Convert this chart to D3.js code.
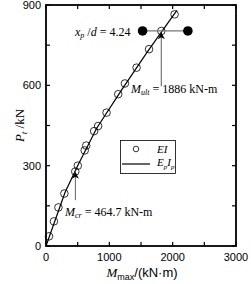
<!DOCTYPE html>
<html>
<head>
<meta charset="utf-8">
<script src="https://cdn.jsdelivr.net/npm/d3@7"></script>
<style>
  body { margin: 0; background: #fff; }
  svg { display: block; }
  .serif { font-family: "Liberation Serif", "Times New Roman", serif; }
  .sans { font-family: "Liberation Sans", Arial, sans-serif; }
</style>
</head>
<body>
<svg width="251" height="284"></svg>
<script>
// EI points (circles)
var momentEI = [47, 125, 196, 290, 462, 502, 611, 635, 760, 823, 956, 1141, 1246, 1430, 1627, 1821, 2030];
var loadEI   = [36, 92, 144, 196, 278, 300, 357, 375, 429, 448, 498, 567, 607, 666, 735, 803, 865];
// EpIp curve (line)
var momentEpIp = [0, 300, 500, 800, 1200, 1600, 2066];
var loadEpIp   = [0, 200, 300, 440, 585, 725, 880];

var xTicks = [0, 1000, 2000, 3000];
var yTicks = [0, 300, 600, 900];

var mCr = 464.7, mCrLoad = 278, mCrTail = 171;
var mUlt = 1886, mUltX = 1821, mUltLoad = 803, mUltTail = 597;
var xpDots = [1525, 2240];
var xpRatio = "4.24";

var svg = d3.select("svg");
var margin = {left: 46, top: 5, right: 15, bottom: 38};
var width = 251 - margin.left - margin.right,
    height = 284 - margin.top - margin.bottom;

var x = d3.scaleLinear().domain([0, 3000]).range([margin.left, margin.left + width]);
var y = d3.scaleLinear().domain([0, 900]).range([margin.top + height, margin.top]);

var defs = svg.append("defs");
defs.append("marker")
    .attr("id", "head")
    .attr("viewBox", "0 0 10 10")
    .attr("refX", 9).attr("refY", 5)
    .attr("markerWidth", 7).attr("markerHeight", 9)
    .attr("markerUnits", "userSpaceOnUse")
    .attr("orient", "auto")
  .append("path")
    .attr("d", "M0,0 L10,5 L0,10 L3,5 Z")
    .attr("fill", "#000");

// ticks inside, on all sides
var minorX = d3.range(0, 3001, 500), minorY = d3.range(0, 901, 150);
var tl = 4;
var tg = svg.append("g").attr("stroke", "#000").attr("stroke-width", 1.2);
minorX.forEach(function(v) {
  tg.append("line").attr("x1", x(v)).attr("x2", x(v)).attr("y1", y(0)).attr("y2", y(0) - tl);
  tg.append("line").attr("x1", x(v)).attr("x2", x(v)).attr("y1", y(900)).attr("y2", y(900) + tl);
});
minorY.forEach(function(v) {
  tg.append("line").attr("y1", y(v)).attr("y2", y(v)).attr("x1", x(0)).attr("x2", x(0) + tl);
  tg.append("line").attr("y1", y(v)).attr("y2", y(v)).attr("x1", x(3000)).attr("x2", x(3000) - tl);
});

svg.append("g").selectAll("text").data(xTicks).enter().append("text")
    .attr("class", "sans").attr("font-size", 11)
    .attr("x", function(d) { return x(d); })
    .attr("y", y(0) + 15)
    .attr("text-anchor", "middle")
    .text(function(d) { return d; });

svg.append("g").selectAll("text").data(yTicks).enter().append("text")
    .attr("class", "sans").attr("font-size", 11)
    .attr("x", x(0) - 5)
    .attr("y", function(d) { return y(d) + 4; })
    .attr("text-anchor", "end")
    .text(function(d) { return d; });

// EpIp line
var line = d3.line()
    .x(function(d) { return x(d[0]); })
    .y(function(d) { return y(d[1]); });
svg.append("path")
    .datum(d3.zip(momentEpIp, loadEpIp))
    .attr("d", line)
    .attr("fill", "none")
    .attr("stroke", "#000")
    .attr("stroke-width", 1.2);

// EI circles
svg.append("g").selectAll("circle")
    .data(d3.zip(momentEI, loadEI))
    .enter().append("circle")
    .attr("cx", function(d) { return x(d[0]); })
    .attr("cy", function(d) { return y(d[1]); })
    .attr("r", 3.8)
    .attr("fill", "none")
    .attr("stroke", "#000")
    .attr("stroke-width", 0.8);

// xp/d marker
svg.append("line")
    .attr("x1", x(xpDots[0])).attr("x2", x(xpDots[1]))
    .attr("y1", y(mUltLoad)).attr("y2", y(mUltLoad))
    .attr("stroke", "#777").attr("stroke-width", 1.2);
svg.append("g").selectAll("circle").data(xpDots).enter().append("circle")
    .attr("cx", function(d) { return x(d); })
    .attr("cy", y(mUltLoad))
    .attr("r", 4.8)
    .attr("fill", "#000");

// arrows
svg.append("line")
    .attr("x1", x(mUltX)).attr("x2", x(mUltX))
    .attr("y1", y(mUltTail)).attr("y2", y(mUltLoad) + 2)
    .attr("stroke", "#777").attr("stroke-width", 1.2)
    .attr("marker-end", "url(#head)");
svg.append("line")
    .attr("x1", x(mCr)).attr("x2", x(mCr))
    .attr("y1", y(mCrTail)).attr("y2", y(mCrLoad) + 1)
    .attr("stroke", "#777").attr("stroke-width", 1.2)
    .attr("marker-end", "url(#head)");

// annotation texts
var t1 = svg.append("text").attr("class", "serif").attr("font-size", 12)
    .attr("x", 75).attr("y", 36);
t1.append("tspan").attr("font-style", "italic").text("x");
t1.append("tspan").attr("font-style", "italic").attr("font-size", 8).attr("dy", 2).text("p");
t1.append("tspan").attr("dy", -2).text(" /");
t1.append("tspan").attr("font-style", "italic").text("d");
t1.append("tspan").text(" = " + xpRatio);

var t2 = svg.append("text").attr("class", "serif").attr("font-size", 12)
    .attr("x", 131).attr("y", 93);
t2.append("tspan").attr("font-style", "italic").text("M");
t2.append("tspan").attr("font-style", "italic").attr("font-size", 8).attr("dy", 2).text("ult");
t2.append("tspan").attr("dy", -2).text(" = " + mUlt + " kN-m");

var t3 = svg.append("text").attr("class", "serif").attr("font-size", 12)
    .attr("x", 65).attr("y", 216);
t3.append("tspan").attr("font-style", "italic").text("M");
t3.append("tspan").attr("font-style", "italic").attr("font-size", 8).attr("dy", 2).text("cr");
t3.append("tspan").attr("dy", -2).text(" = " + mCr + " kN-m");

// legend
var lg = svg.append("g");
lg.append("rect").attr("x", 120.5).attr("y", 140.5).attr("width", 55).attr("height", 33)
    .attr("fill", "#fff").attr("stroke", "#000").attr("stroke-width", 0.8);
lg.append("circle").attr("cx", 136).attr("cy", 149).attr("r", 2.8)
    .attr("fill", "none").attr("stroke", "#000").attr("stroke-width", 0.8);
lg.append("text").attr("class", "serif").attr("font-size", 11).attr("font-style", "italic")
    .attr("x", 157).attr("y", 153).text("EI");
lg.append("line").attr("x1", 122).attr("x2", 150).attr("y1", 164).attr("y2", 164)
    .attr("stroke", "#000").attr("stroke-width", 1.2);
var lt = lg.append("text").attr("class", "serif").attr("font-size", 11).attr("font-style", "italic")
    .attr("x", 157).attr("y", 166);
lt.append("tspan").text("E");
lt.append("tspan").attr("font-size", 7).attr("dy", 3).text("p");
lt.append("tspan").attr("dy", -3).text("I");
lt.append("tspan").attr("font-size", 7).attr("dy", 3).text("p");

// frame
svg.append("rect")
    .attr("x", x(0)).attr("y", y(900))
    .attr("width", x(3000) - x(0)).attr("height", y(0) - y(900))
    .attr("fill", "none").attr("stroke", "#000").attr("stroke-width", 1.8);

// axis titles
var xt = svg.append("text").attr("font-size", 13)
    .attr("x", 142).attr("y", 277).attr("text-anchor", "middle");
xt.append("tspan").attr("class", "serif").attr("font-style", "italic").text("M");
xt.append("tspan").attr("class", "sans").attr("font-size", 9).attr("dy", 3).text("max");
xt.append("tspan").attr("class", "sans").attr("dy", -3).text("/(kN\u00b7m)");

var yt = svg.append("text").attr("class", "serif").attr("font-size", 13)
    .attr("transform", "translate(24," + (y(450)) + ") rotate(-90)")
    .attr("text-anchor", "middle");
yt.append("tspan").attr("font-style", "italic").text("P");
yt.append("tspan").attr("font-style", "italic").attr("font-size", 9).attr("dy", 3).text("t");
yt.append("tspan").attr("dy", -3).text(" /kN");
</script>
</body>
</html>
